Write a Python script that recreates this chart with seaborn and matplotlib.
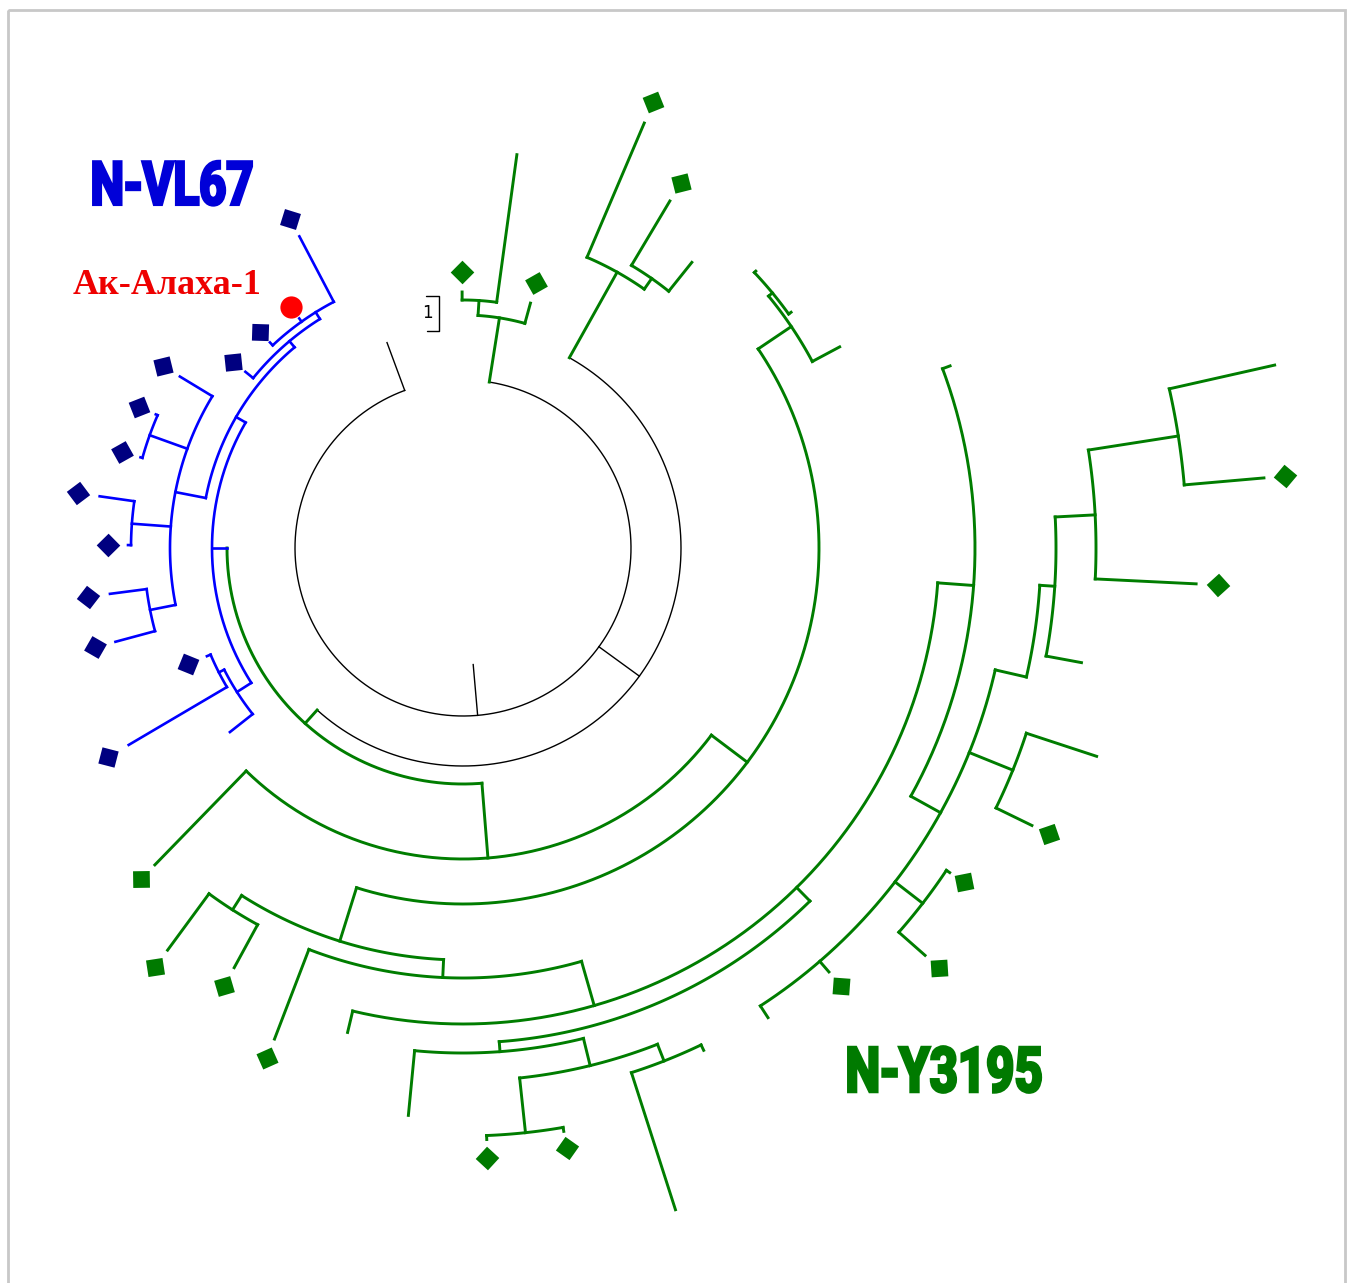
import numpy as np
import matplotlib
matplotlib.use("Agg")
import matplotlib.pyplot as plt
import matplotlib.patheffects as pe
from matplotlib import font_manager
from matplotlib.patches import Rectangle
from matplotlib.transforms import Affine2D
import seaborn as sns

# ---- tree data: internal nodes (distance from centre, angle in degrees) ----
node_name = ["root", "B1", "B2", "GT", "GT1", "TOPR", "TOPR1", "G_A",
             "BLUE", "BR1", "BU1", "BU2", "BN0", "BN1", "BN2", "BN3", "BL1", "BL2",
             "G_B", "G_C", "G_D", "G_D2", "N252", "N237", "N267", "N286", "N_sec",
             "N274", "N283", "N276", "N291", "Q", "N331", "N322", "N338", "P578",
             "A", "B", "C"]
node_parent = [None, "root", "B1", "B1", "GT", "B2", "TOPR", "B2",
               "G_A", "BLUE", "BR1", "BU1", "BR1", "BN0", "BN0", "BN0", "BLUE", "BL1",
               "G_A", "G_B", "G_C", "G_D", "G_C", "N252", "N252", "N267", "N286",
               "N_sec", "N274", "N283", "N283", "N286", "Q", "N331", "N331", "N331",
               "P578", "A", "B"]
node_dist = [117, 168, 218, 233, 248, 316, 329, 236,
             251, 262, 270, 278, 293, 333, 332, 319, 268, 274,
             311, 356, 396, 401, 412, 429, 430, 476, 495,
             505, 533, 588, 551, 512, 546, 581, 593, 578,
             593, 633, 724]
node_angle = [275, 275, 324, 441, 446.3, 420.8, 415, 228,
              180, 150, 130, 122, 169, 160.2, 175.8, 191.2, 212.5, 207,
              274.6, 323, 394, 399.5, 252.6, 237.5, 267.3, 286, 314.5,
              274.2, 283.8, 276.1, 291.4, 355.8, 331, 322.3, 338, 347.1,
              356.3, 363, 368.9]
node_clade = ["k", "k", "k", "g", "g", "g", "g", "g",
              "b", "b", "b", "b", "b", "b", "b", "b", "b", "b",
              "g", "g", "g", "g", "g", "g", "g", "g", "g",
              "g", "g", "g", "g", "g", "g", "g", "g", "g",
              "g", "g", "g"]

# ---- leaves: parent, angle, tip distance, marker ('' none, 'sq', 'dot') ----
leaf_parent = ["B1",
               "GT", "GT1", "GT1", "TOPR", "TOPR1", "TOPR1",
               "BU2", "BU2", "BU2", "BU1", "BN0", "BN1", "BN1", "BN2", "BN2",
               "BN3", "BN3", "BL2", "BL2", "BL1",
               "G_B", "N237", "N237", "N267", "N286", "N274", "N276", "N276",
               "N291", "N291", "N331", "N331", "N322", "N322", "N338", "N338",
               "A", "B", "C", "C", "G_D", "G_D2", "G_D2", "Q"]
leaf_angle = [110.3,
              434.6, 442.2, 450.2, 426.9, 419.2, 411.3,
              117.7, 125.5, 133.2, 141.0, 148.8, 156.5, 164.3, 171.9, 179.5,
              187.4, 195.1, 202.9, 210.5, 218.3,
              225.8, 233.7, 241.4, 249.0, 256.6, 264.5, 272.3, 279.8,
              287.8, 295.6, 303.0, 310.8, 318.6, 326.3, 334.0, 341.8,
              349.5, 357.2, 365.0, 372.7, 388.1, 395.7, 403.4, 380.5]
leaf_dist = [219,
             254, 397, 256, 462, 404, 366,
             352, 282, 282, 280, 331, 335, 335, 367, 335,
             356, 360, 278, 388, 297,
             442, 499, 478, 526, 498, 570, 592, 592,
             695, 557, 560, 560, 616, 585, 633, 667,
             629, 734, 804, 832, 427, 404, 403, 520]
leaf_mark = ["",
             "sq", "", "sq", "sq", "sq", "",
             "sq", "dot", "sq", "sq", "sq", "sq", "sq", "sq", "sq",
             "sq", "sq", "sq", "sq", "",
             "sq", "sq", "sq", "sq", "", "", "sq", "sq",
             "", "", "", "sq", "sq", "sq", "sq", "",
             "", "sq", "sq", "", "", "", "", ""]
leaf_mark_dist = [0,
                  275, 0, 276, 485, 425, 0,
                  372, 296, 296, 296, 351, 353, 354, 389, 355,
                  378, 381, 298, 412, 0,
                  462, 520, 499, 546, 0, 0, 610, 609,
                  0, 0, 0, 578, 635, 602, 652, 0,
                  0, 756, 825, 0, 0, 0, 0, 0]

clade_labels = ["N-VL67", "N-Y3195"]
strain_label = "Ак-Алаха-1"

# ---- layout ----
CX, CY = 463, 548
line_col = {"k": "#000000", "b": "#0000ff", "g": "#007d00"}
line_w = {"k": 1.0, "b": 1.9, "g": 2.1}
mark_col = {"b": "#000080", "g": "#007a00"}


def to_xy(r, a):
    t = np.deg2rad(np.asarray(a, dtype=float))
    return CX + r * np.cos(t), CY - r * np.sin(t)


class TallStroke(pe.AbstractPathEffect):
    """Draws text glyphs stretched vertically (poster-like caption) with an outline."""

    def __init__(self, sy=1.25, lw=2.0):
        super().__init__()
        self.sy = sy
        self.lw = lw

    def draw_path(self, renderer, gc, tpath, affine, rgbFace):
        bb = tpath.get_extents(affine)
        cx, cy = bb.x0 + bb.width / 2, bb.y0 + bb.height / 2
        aff = affine + Affine2D().translate(-cx, -cy).scale(1.0, self.sy).translate(cx, cy)
        gc0 = renderer.new_gc()
        gc0.copy_properties(gc)
        gc0.set_linewidth(self.lw)
        gc0.set_joinstyle("miter")
        renderer.draw_path(gc0, tpath, aff, rgbFace)
        gc0.restore()


sns.set_theme(style="white")
plt.rcParams["font.family"] = ["DejaVu Sans"]

# pick a narrow bold face for the clade labels
ttf = font_manager.fontManager.ttflist
names = {f.name for f in ttf}
narrow = None
for cand in ["Liberation Sans Narrow", "DejaVu Sans Condensed", "Roboto"]:
    if cand in names:
        narrow = cand
        break
if narrow is None:
    narrow = "DejaVu Sans"

fig = plt.figure(figsize=(13.55, 12.83), dpi=100)
ax = fig.add_axes([0, 0, 1, 1])
ax.set_xlim(0, 1355)
ax.set_ylim(1283, 0)
ax.axis("off")

idx = {n: i for i, n in enumerate(node_name)}

# children angles for each internal node -> arc extent
child_angles = {n: [node_angle[i]] for i, n in enumerate(node_name)}
for i, n in enumerate(node_name):
    if node_parent[i] is not None:
        child_angles[node_parent[i]].append(node_angle[i])
for p, a in zip(leaf_parent, leaf_angle):
    child_angles[p].append(a)

# arcs
for i, n in enumerate(node_name):
    lo, hi = min(child_angles[n]), max(child_angles[n])
    if hi - lo < 0.01:
        continue
    aa = np.linspace(lo, hi, max(int((hi - lo) * 3), 4))
    x, y = to_xy(node_dist[i], aa)
    c = node_clade[i]
    ax.plot(x, y, color=line_col[c], lw=line_w[c], solid_capstyle="projecting")

# radial branches of internal nodes
for i, n in enumerate(node_name):
    p = node_parent[i]
    if p is None:
        continue
    x, y = to_xy(np.array([node_dist[idx[p]], node_dist[i]]), node_angle[i])
    c = node_clade[i]
    ax.plot(x, y, color=line_col[c], lw=line_w[c], solid_capstyle="projecting")

# leaf branches and markers
for p, a, d, m, md in zip(leaf_parent, leaf_angle, leaf_dist, leaf_mark, leaf_mark_dist):
    c = node_clade[idx[p]]
    x, y = to_xy(np.array([node_dist[idx[p]], d]), a)
    ax.plot(x, y, color=line_col[c], lw=line_w[c], solid_capstyle="projecting")
    if m == "sq":
        mx, my = to_xy(md, a)
        ax.plot(mx, my, marker=(4, 0, a), ms=17, color=mark_col[c],
                markeredgewidth=0, linestyle="none")
    elif m == "dot":
        mx, my = to_xy(md, a)
        ax.plot(mx, my, marker="o", ms=16, color="#ff0000",
                markeredgewidth=0, linestyle="none")

# scale mark "1]"
ax.plot([426, 439, 439, 427], [296, 296, 331, 331], color="black", lw=1.0)
ax.text(427, 313, "1", fontsize=12, ha="center", va="center", color="black")

# labels, sized to the width they take in the original
fig.canvas.draw()
renderer = fig.canvas.get_renderer()


def fit_label(x, y, s, width_px, color, **kw):
    t = ax.text(x, y, s, color=color, ha="center", va="center", **kw)
    bb = t.get_window_extent(renderer=renderer)
    t.set_fontsize(t.get_fontsize() * width_px / bb.width)
    return t


t1 = fit_label(172, 187, clade_labels[0], 163, "#0000d8", fontsize=43,
               fontweight="bold", family=[narrow, "DejaVu Sans"])
t2 = fit_label(944, 1074, clade_labels[1], 197, "#007a00", fontsize=45,
               fontweight="bold", family=[narrow, "DejaVu Sans"])
for t in (t1, t2):
    t.set_path_effects([TallStroke(sy=1.27, lw=2.2)])
fit_label(167, 285, strain_label, 189, "#ee0000", fontsize=26, fontweight="bold",
          family=["Liberation Serif", "DejaVu Serif"])

# light frame
ax.add_patch(Rectangle((8, 10), 1337, 1300, fill=False, edgecolor="#c8c8c8", lw=2))

fig.savefig("out.png", dpi=100)
